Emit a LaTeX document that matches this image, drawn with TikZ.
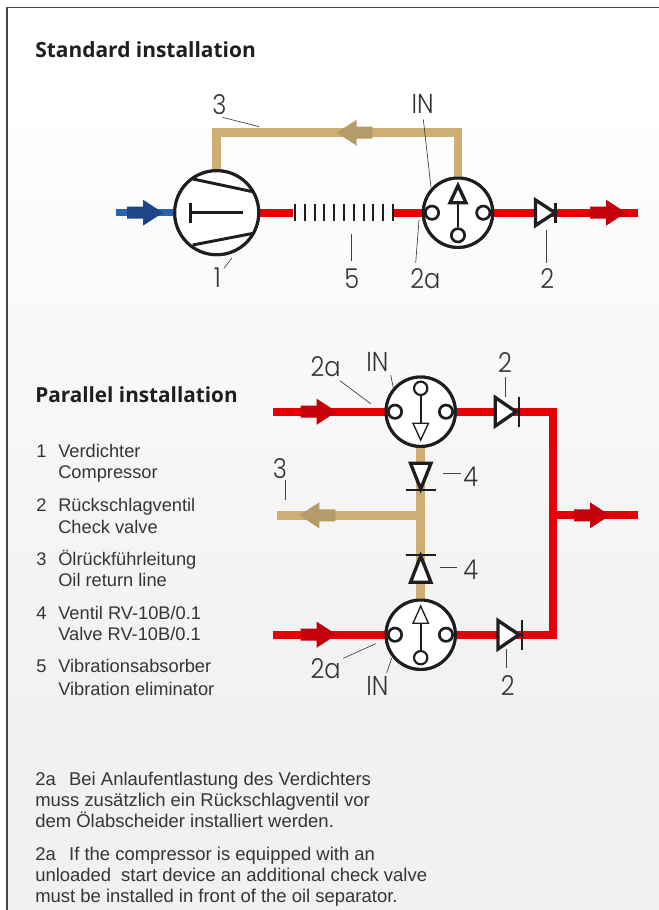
\documentclass[tikz,border=0pt]{standalone}
\usepackage{fontspec}
\setmainfont{Liberation Sans}
\newfontfamily\titlefont{Open Sans}
\newfontfamily\tagfont[FakeStretch=0.88]{Poppins Light}
\usetikzlibrary{shapes.misc,shadows}

\definecolor{pipered}{RGB}{230,0,5}
\definecolor{arrowred}{RGB}{198,0,10}
\definecolor{pipeoil}{RGB}{207,174,116}
\definecolor{arrowoil}{RGB}{181,154,106}
\definecolor{pipeblue}{RGB}{43,98,173}
\definecolor{arrowblue}{RGB}{29,69,135}
\definecolor{inkblack}{RGB}{30,30,32}
\definecolor{framegray}{RGB}{70,70,72}
\definecolor{bgtop}{RGB}{253,253,253}
\definecolor{bgbottom}{RGB}{240,241,242}

\tikzset{
	redpipe/.style={draw=pipered,line width=6pt},
	oilpipe/.style={draw=pipeoil,line width=6.5pt},
	bluepipe/.style={draw=pipeblue,line width=5pt},
	sepbody/.style={circle,draw=inkblack,fill=white,line width=2.3pt,minimum size=52pt,inner sep=0pt},
	compbody/.style={circle,draw=inkblack,fill=white,line width=2.3pt,minimum size=63pt,inner sep=0pt},
	port/.style={circle,draw=inkblack,fill=white,line width=2pt,minimum size=10pt,inner sep=0pt},
	valvetri/.style={draw=inkblack,fill=white,line width=2.5pt,miter limit=10},
	valvebar/.style={draw=inkblack,line width=1.6pt},
	leader/.style={draw=black!75,line width=0.5pt},
	tag/.style={inner sep=0pt,font=\tagfont\fontsize{20.5}{20.5}\selectfont,text=black!80},
	legend/.style={anchor=base west,inner sep=0pt,font=\fontsize{13.7}{14}\selectfont,text=inkblack!90},
	notetext/.style={legend,font=\fontsize{13.85}{14}\selectfont},
	heading/.style={anchor=base west,inner sep=0pt,font=\titlefont\bfseries\fontsize{15.7}{16}\selectfont,text=inkblack}
}

% flow arrow: tip x, y, direction (+1 right, -1 left), colour
\newcommand{\flowarrow}[4]{
	\fill [#4] (#1-#3*36,#2-6) -- (#1-#3*20,#2-6) -- (#1-#3*20,#2-13) -- (#1,#2) -- (#1-#3*20,#2+13) -- (#1-#3*20,#2+6) -- (#1-#3*36,#2+6) -- cycle;
}

\begin{document}
\begin{tikzpicture}[x=0.75pt,y=0.75pt,yscale=-1,xscale=1]
	\useasboundingbox (0,0) rectangle (659,910);
	
	%background
	\shade [top color=bgtop,bottom color=bgbottom] (7,130) rectangle (659,720);
	\fill [bgbottom] (7,719.5) rectangle (659,910);
	\draw [framegray,line width=0.9pt] (659,7.5) -- (7,7.5) -- (7,910);
	
	%Standard installation
	\coordinate (inblue) at (116,212.7);
	\node [compbody] (comp) at (216.7,212.7) {};
	\node [sepbody] (sepa) at (458,212.7) {};
	\coordinate (absleft) at (293,212.7);
	\coordinate (absright) at (393,212.7);
	\coordinate (outa) at (638,212.7);
	\coordinate (oilcornera) at (216.7,132.7);
	\coordinate (oilcornerb) at (458,132.7);
	
	%pipes
	\draw [bluepipe] (inblue) -- (comp.west);
	\draw [redpipe] (comp.east) -- (absleft);
	\draw [redpipe] (absright) -- (sepa.west);
	\draw [redpipe] (sepa.east) -- (outa);
	\draw [oilpipe,line join=miter] (comp.north) -- (oilcornera) -- (oilcornerb) -- (sepa.north);
	\node [compbody] at (comp) {};
	\node [sepbody] at (sepa) {};
	\flowarrow{163}{212.7}{1}{arrowblue}
	\flowarrow{336.7}{132.7}{-1}{arrowoil}
	\flowarrow{626}{212.7}{1}{arrowred}
	
	%compressor inner
	\draw [inkblack,line width=2.6pt] (190.7,202.7) -- (190.7,223.3) (190.7,212.7) -- (242.7,212.7);
	\draw [inkblack,line width=2.2pt] (193,179) -- (252.7,191.7) (192.7,245) -- (253.3,233.3);
	
	%absorber
	\foreach \i in {0,...,10}
		\draw [inkblack,line width=1.5pt] (295+9.8*\i,204) -- (295+9.8*\i,221);
	
	%separator inner
	\node [port] (sepal) at (432,212.7) {};
	\node [port] (separ) at (483.3,212.7) {};
	\node [port] (sepab) at (458,235.3) {};
	\draw [inkblack,line width=1.9pt] (sepab) -- (458,202.7);
	\draw [valvetri] (450,202.7) -- (466,202.7) -- (458,185.5) -- cycle;
	
	%check valve
	\draw [valvetri] (535.5,200) -- (535.5,225.5) -- (555,212.7) -- cycle;
	\draw [inkblack,line width=2.2pt] (555.7,202.7) -- (555.7,222.7);
	
	%Parallel installation
	\coordinate (inb) at (273.3,411.7);
	\coordinate (inc) at (273.3,634.7);
	\node [sepbody] (sepb) at (420.7,411.7) {};
	\node [sepbody] (sepc) at (420.7,634.7) {};
	\coordinate (cornerb) at (553,411.7);
	\coordinate (cornerc) at (553,634.7);
	\coordinate (teered) at (553,515.3);
	\coordinate (outb) at (638,515.3);
	\coordinate (teeoil) at (420.7,515.3);
	\coordinate (oilend) at (277.3,515.3);
	
	\draw [oilpipe] (sepb) -- (sepc);
	\draw [oilpipe] (teeoil) -- (oilend);
	\draw [redpipe] (inb) -- (sepb);
	\draw [redpipe] (inc) -- (sepc);
	\draw [redpipe,line join=miter] (sepb) -- (cornerb) -- (cornerc) -- (sepc);
	\draw [redpipe] (teered) -- (outb);
	\node [sepbody] at (sepb) {};
	\node [sepbody] at (sepc) {};
	\flowarrow{336.7}{411.7}{1}{arrowred}
	\flowarrow{336.7}{634.7}{1}{arrowred}
	\flowarrow{610}{515.3}{1}{arrowred}
	\flowarrow{299.3}{515.3}{-1}{arrowoil}
	
	%upper separator inner
	\node [port] (sepbl) at (395,411.7) {};
	\node [port] (sepbr) at (446,411.7) {};
	\node [port,line width=1.6pt] (sepbt) at (420.7,388.3) {};
	\draw [inkblack,line width=1.3pt] (sepbt) -- (420.7,423.3);
	\draw [inkblack,fill=white,line width=1pt] (413,423.3) -- (428.4,423.3) -- (420.7,440) -- cycle;
	
	%lower separator inner
	\node [port] (sepcl) at (395,634.7) {};
	\node [port] (sepcr) at (446,634.7) {};
	\node [port,line width=1.6pt] (sepcb) at (420.7,657.7) {};
	\draw [inkblack,line width=1.3pt] (sepcb) -- (420.7,623.3);
	\draw [inkblack,fill=white,line width=1pt] (413,623.3) -- (428.4,623.3) -- (420.7,606) -- cycle;
	
	%check valves
	\draw [valvetri] (495.3,397.5) -- (495.3,426) -- (516,411.7) -- cycle;
	\draw [valvebar] (519.3,396.7) -- (519.3,426.7);
	\draw [valvetri] (498,620.5) -- (498,649) -- (519,634.7) -- cycle;
	\draw [valvebar] (522.3,620) -- (522.3,650);
	
	%valves 4
	\draw [valvetri] (410.5,463.3) -- (431,463.3) -- (420.7,489) -- cycle;
	\draw [valvebar] (405.7,490.3) -- (435.7,490.3);
	\draw [valvetri] (410.5,582.3) -- (431,582.3) -- (420.7,556) -- cycle;
	\draw [valvebar] (405.7,555) -- (435.7,555);
	
	%tags and leaders, standard
	\node [tag] (tthree) at (219.3,105) {3};
	\node [tag] (tone) at (217.3,278) {1};
	\node [tag] (tfive) at (351.7,279) {5};
	\node [tag] (tin) at (422.7,104) {IN};
	\node [tag] (ttwoa) at (425.3,279) {2a};
	\node [tag] (ttwo) at (547.3,279) {2};
	\draw [leader] (222.3,117.3) -- (259.3,126.7);
	\draw [leader] (224,268.3) -- (231.7,258.3);
	\draw [leader] (351.7,234) -- (351.7,260.7);
	\draw [leader] (423.3,119.3) -- (431,187.3);
	\draw [leader] (415.7,262.7) -- (419,220);
	\draw [leader] (546,230) -- (546,263.3);
	
	%tags and leaders, parallel
	\node [tag] (ptwoa) at (325.7,366.7) {2a};
	\node [tag] (pin) at (377.3,361.7) {IN};
	\node [tag] (ptwo) at (505,362.3) {2};
	\node [tag] (pthree) at (280,468.3) {3};
	\node [tag] (pfour) at (470.7,476.7) {4};
	\node [tag] (qfour) at (470.7,570) {4};
	\node [tag] (qtwoa) at (325.7,668.3) {2a};
	\node [tag] (qin) at (377.3,685.7) {IN};
	\node [tag] (qtwo) at (507.7,686) {2};
	\draw [leader] (340.3,381) -- (370.7,403.7);
	\draw [leader] (390.7,375) -- (393.3,387.7);
	\draw [leader] (505,377.3) -- (505,396.7);
	\draw [leader] (285,480) -- (285,500);
	\draw [leader] (443,473.7) -- (461,473.7);
	\draw [leader] (440,567) -- (456.7,567);
	\draw [leader] (343.3,658.3) -- (375.7,643.7);
	\draw [leader] (386.7,672.7) -- (391.7,658.3);
	\draw [leader] (506,649.3) -- (506,668.3);
	
	%headings
	\node [heading] (titlea) at (35,57) {Standard installation};
	\node [heading,font=\titlefont\bfseries\fontsize{15.55}{16}\selectfont] (titleb) at (35,402) {Parallel installation};
	
	%legend
	\node [legend] (numa) at (36,457) {1};
	\node [legend] (lega) at (58,457) {Verdichter};
	\node [legend] (legb) at (58,478) {Compressor};
	\node [legend] (numb) at (36,511.7) {2};
	\node [legend] (legc) at (58,511.7) {Rückschlagventil};
	\node [legend] (legd) at (58,533.3) {Check valve};
	\node [legend] (numc) at (36,565) {3};
	\node [legend] (lege) at (58,565) {Ölrückführleitung};
	\node [legend] (legf) at (58,586.7) {Oil return line};
	\node [legend] (numd) at (36,619.3) {4};
	\node [legend] (legg) at (58,619.3) {Ventil RV-10B/0.1};
	\node [legend] (legh) at (58,640.7) {Valve RV-10B/0.1};
	\node [legend] (nume) at (36,672.7) {5};
	\node [legend] (legi) at (58,672.7) {Vibrationsabsorber};
	\node [legend] (legj) at (58,695) {Vibration eliminator};
	
	%notes
	\node [notetext] (nota) at (35,785) {2a\hspace{10pt}Bei Anlaufentlastung des Verdichters};
	\node [notetext] (notb) at (35,806) {muss zusätzlich ein Rückschlagventil vor};
	\node [notetext] (notc) at (35,827) {dem Ölabscheider installiert werden.};
	\node [notetext] (notd) at (35,860) {2a\hspace{10pt}If the compressor is equipped with an};
	\node [notetext] (note) at (35,881) {unloaded\hspace{7.5pt}start device an additional check valve};
	\node [notetext] (notf) at (35,902.7) {must be installed in front of the oil separator.};
\end{tikzpicture}
\end{document}
